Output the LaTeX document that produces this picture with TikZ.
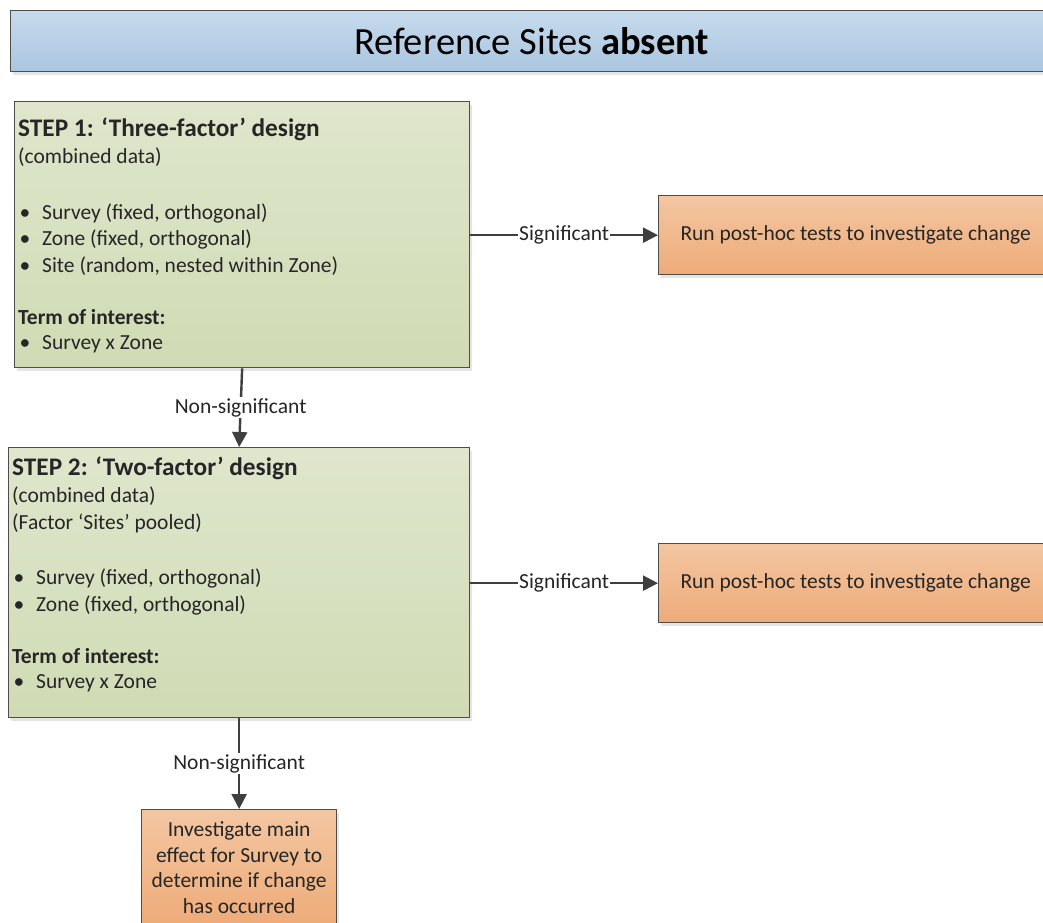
\documentclass[tikz,border=0pt]{standalone}
\usepackage{fontspec}
\setmainfont{Carlito}
\usetikzlibrary{arrows.meta,shadows}

\definecolor{edgegray}{HTML}{4D4D4D}
\definecolor{linkgray}{HTML}{3F3F3F}
\definecolor{inkgray}{HTML}{262626}
\definecolor{blueTop}{HTML}{C6DAEC}
\definecolor{blueBot}{HTML}{AAC6DF}
\definecolor{greenTop}{HTML}{DFE6CC}
\definecolor{greenBot}{HTML}{D0DBB4}
\definecolor{orangeTop}{HTML}{F3C6A2}
\definecolor{orangeBot}{HTML}{EEAB78}

\newcommand{\bul}{\hspace*{1.5pt}\makebox[22.5pt][l]{•}}

\tikzset{
  boxbase/.style={draw=edgegray, line width=1.3pt, inner sep=0pt,
    drop shadow={shadow xshift=2pt, shadow yshift=-3pt, fill=black!10, opacity=1}},
  titlebox/.style={boxbase, top color=blueTop, bottom color=blueBot, anchor=north west},
  stepbox/.style={boxbase, top color=greenTop, bottom color=greenBot, anchor=north west},
  actionbox/.style={boxbase, top color=orangeTop, bottom color=orangeBot, anchor=north west,
    text=inkgray, font=\fontsize{21.5}{25.5}\selectfont, align=center},
  % multi-line text block; its base anchor sits on the last line
  bodytext/.style={anchor=base west, inner sep=0pt, align=left, text=inkgray,
    font=\fontsize{21.5}{26.7}\selectfont},
  link/.style={draw=linkgray, line width=2.4pt, -{Triangle[length=15pt,width=15pt]}},
  linklabel/.style={fill=white, inner sep=1pt, text=inkgray,
    font=\fontsize{21.5}{24}\selectfont},
}
\newcommand{\steptitle}[1]{{\fontsize{25.3}{30}\selectfont\bfseries #1}}

\begin{document}
\begin{tikzpicture}[x=1pt,y=-1pt]
\useasboundingbox (0,0) rectangle (1043,922);

% heading bar
\node[titlebox, minimum width=1042pt, minimum height=61pt,
  font=\fontsize{38.5}{44}\selectfont, text=black] (head) at (10,10)
  {Reference Sites \textbf{absent}};

% step 1
\node[stepbox, minimum width=455pt, minimum height=266pt] (s1) at (14,101) {};
\node[bodytext] (s1text) at ([shift={(4pt,-248pt)}]s1.north west)
  {\steptitle{STEP 1: ‘Three-factor’ design}\\
   (combined data)\\[29pt]
   \bul Survey (fixed, orthogonal)\\
   \bul Zone (fixed, orthogonal)\\
   \bul Site (random, nested within Zone)\\[25pt]
   \textbf{Term of interest:}\\[-2pt]
   \bul Survey x Zone};

% step 2
\node[stepbox, minimum width=461pt, minimum height=270pt] (s2) at (8,447) {};
\node[bodytext] (s2text) at ([shift={(4pt,-241pt)}]s2.north west)
  {\steptitle{STEP 2: ‘Two-factor’ design}\\
   (combined data)\\
   (Factor ‘Sites’ pooled)\\[29pt]
   \bul Survey (fixed, orthogonal)\\
   \bul Zone (fixed, orthogonal)\\[25pt]
   \textbf{Term of interest:}\\[-2pt]
   \bul Survey x Zone};

% outcomes
\node[actionbox, minimum width=394pt, minimum height=79pt] (post1) at (658,195)
  {Run post-hoc tests to investigate change};
\node[actionbox, minimum width=394pt, minimum height=79pt] (post2) at (658,543)
  {Run post-hoc tests to investigate change};
\node[actionbox, minimum width=195pt, minimum height=116pt] (main) at (141,809)
  {Investigate main\\effect for Survey to\\determine if change\\has occurred};

% decision links
\draw[link] (s1.east |- post1.west) -- node[linklabel] (sig1) {Significant} (post1.west);
\draw[link] (s2.east |- post2.west) -- node[linklabel] (sig2) {Significant} (post2.west);
\draw[link] (s1.south) -- node[linklabel] (ns1) {Non-significant} (s2.north);
\draw[link] (s2.south) -- node[linklabel] (ns2) {Non-significant} (main.north);
\end{tikzpicture}
\end{document}
